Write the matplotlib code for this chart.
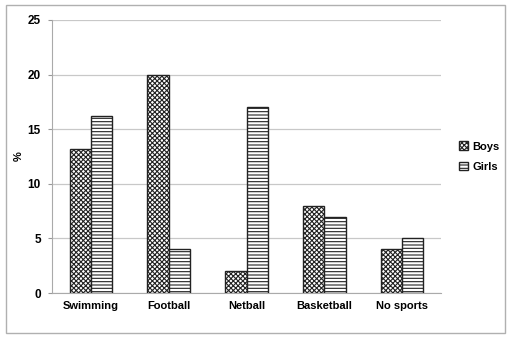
import matplotlib
matplotlib.use("Agg")
import matplotlib.pyplot as plt
import numpy as np
from matplotlib.patches import Rectangle

categories = ["Swimming", "Football", "Netball", "Basketball", "No sports"]
boys = [13.2, 20, 2, 8, 4]
girls = [16.2, 4, 17, 7, 5]
yticks = [0, 5, 10, 15, 20, 25]

plt.rcParams['font.family'] = ['Liberation Sans', 'DejaVu Sans']
plt.rcParams['hatch.linewidth'] = 0.8

fig = plt.figure(figsize=(5.12, 3.41), dpi=100)
ax = fig.add_axes([52/512, 1 - 293/341, (441-52)/512, (293-20)/341])

x = np.arange(len(categories))
w = 0.275
ax.bar(x - w/2, boys, w, facecolor='white', edgecolor='#222222', hatch='xxxxxxx', linewidth=1.0, label='Boys', zorder=3)
ax.bar(x + w/2, girls, w, facecolor='white', edgecolor='#222222', hatch='-----', linewidth=1.0, label='Girls', zorder=3)

ax.set_xlim(-0.5, len(categories) - 0.5)
ax.set_ylim(0, 25)
ax.set_yticks(yticks)
ax.set_yticklabels([str(t) for t in yticks], fontsize=8.5, fontweight='bold')
ax.set_xticks(x)
ax.set_xticklabels(categories, fontsize=8, fontweight='bold')
ax.tick_params(axis='x', length=0, pad=6)
ax.tick_params(axis='y', length=3, color='#999999', pad=5)
ax.grid(axis='y', color='#c8c8c8', linewidth=0.9, zorder=0)
for s in ['top', 'right']:
    ax.spines[s].set_visible(False)
ax.spines['left'].set_color('#aaaaaa')
ax.spines['bottom'].set_color('#aaaaaa')
ax.set_ylabel('%', fontsize=8, fontweight='bold', labelpad=3)

leg = ax.legend(loc='center left', bbox_to_anchor=(1.02, 0.5), frameon=False,
                prop={'size': 8, 'weight': 'bold'}, handlelength=0.8, handleheight=0.8,
                handletextpad=0.4, labelspacing=0.9)

fig.patches.append(Rectangle((6/512, 1 - 333/341), (505-6)/512, (333-5)/341,
                             transform=fig.transFigure, fill=False, edgecolor='#b0b0b0', linewidth=1))

fig.savefig('out.png', dpi=100)
